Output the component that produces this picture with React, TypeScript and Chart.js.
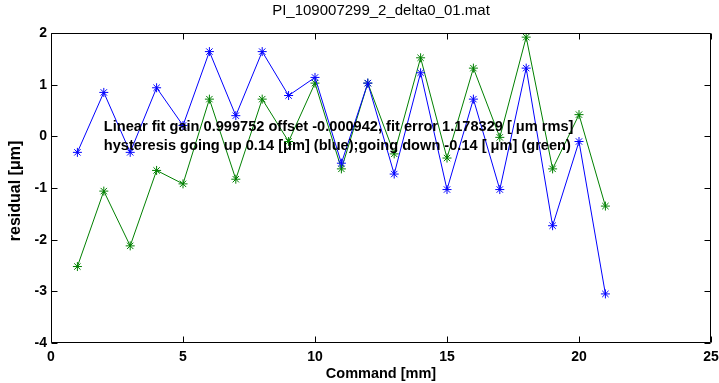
import React, { useEffect, useRef } from "react";
import { Chart, registerables } from "chart.js";

Chart.register(...registerables);

const titleText = "PI_109007299_2_delta0_01.mat";
const xLabel = "Command [mm]";
const yLabel = "residual [\u03bcm]";
const noteLines = [
  "Linear fit gain 0.999752 offset -0.000942, fit error 1.178329 [ \u03bcm rms]",
  "hysteresis going up 0.14 [\u03bcm] (blue);going down -0.14 [ \u03bcm] (green)",
];
const noteAt = { x: 2, y: 0 };

const commands = [1, 2, 3, 4, 5, 6, 7, 8, 9, 10, 11, 12, 13, 14, 15, 16, 17, 18, 19, 20, 21];
const upValues = [
  -0.31, 0.85, -0.31, 0.94, 0.21, 1.64, 0.4, 1.64, 0.79, 1.14, -0.52,
  1.03, -0.73, 1.23, -1.03, 0.72, -1.03, 1.32, -1.73, -0.1, -3.05,
];
const downValues = [
  -2.52, -1.06, -2.12, -0.66, -0.92, 0.72, -0.83, 0.72, -0.1, 1.03, -0.63,
  1.03, -0.34, 1.52, -0.42, 1.32, -0.02, 1.92, -0.63, 0.42, -1.35,
];
const xTicks = [0, 5, 10, 15, 20, 25];
const yTicks = [-4, -3, -2, -1, 0, 1, 2];

const FONT = "'Liberation Sans', Arial, Helvetica, sans-serif";

const decorPlugin = {
  id: "decor",
  afterDraw(chart: any) {
    const ctx = chart.ctx as CanvasRenderingContext2D;
    const a = chart.chartArea;
    const xs = chart.scales.x;
    const ys = chart.scales.y;
    ctx.save();
    ctx.strokeStyle = "#000";
    ctx.lineWidth = 1;
    const L = Math.round(a.left) + 0.5;
    const R = Math.round(a.right) - 0.5;
    const T = Math.round(a.top) + 0.5;
    const B = Math.round(a.bottom) - 0.5;
    ctx.beginPath();
    ctx.rect(L, T, R - L, B - T);
    const tl = 6;
    for (const v of xTicks) {
      const px = Math.round(xs.getPixelForValue(v)) + 0.5;
      ctx.moveTo(px, B);
      ctx.lineTo(px, B - tl);
      ctx.moveTo(px, T);
      ctx.lineTo(px, T + tl);
    }
    for (const v of yTicks) {
      const py = Math.round(ys.getPixelForValue(v)) + 0.5;
      ctx.moveTo(L, py);
      ctx.lineTo(L + tl, py);
      ctx.moveTo(R, py);
      ctx.lineTo(R - tl, py);
    }
    ctx.stroke();

    ctx.fillStyle = "#000";
    ctx.textAlign = "center";
    ctx.textBaseline = "middle";
    ctx.font = `15px ${FONT}`;
    ctx.fillText(titleText, (a.left + a.right) / 2, 11);

    ctx.font = `bold 14.5px ${FONT}`;
    ctx.fillText(xLabel, (a.left + a.right) / 2, 374);
    ctx.save();
    ctx.translate(16, 191);
    ctx.rotate(-Math.PI / 2);
    ctx.font = `bold 16px ${FONT}`;
    ctx.fillText(yLabel, 0, 0);
    ctx.restore();

    ctx.textAlign = "left";
    ctx.font = `bold 14.6px ${FONT}`;
    const nx = xs.getPixelForValue(noteAt.x);
    const ny = ys.getPixelForValue(noteAt.y);
    const lh = 19;
    ctx.fillText(noteLines[0], nx, ny - lh / 2);
    ctx.fillText(noteLines[1], nx, ny + lh / 2);
    ctx.restore();
  },
};

export default function App() {
  const ref = useRef<HTMLCanvasElement | null>(null);
  useEffect(() => {
    if (!ref.current) return;
    const mk = (vals: number[], color: string) => ({
      data: commands.map((c, i) => ({ x: c, y: vals[i] })),
      showLine: true,
      borderColor: color,
      backgroundColor: color,
      borderWidth: 1,
      pointStyle: "star",
      pointRadius: 4.5,
      pointBorderWidth: 1,
      pointBorderColor: color,
    });
    const chart = new Chart(ref.current, {
      type: "scatter",
      data: {
        datasets: [mk(upValues, "#0000ff"), mk(downValues, "#008000")],
      },
      options: {
        animation: false,
        responsive: false,
        devicePixelRatio: 1,
        layout: { padding: { top: 33, right: 8, left: 0, bottom: 0 } },
        plugins: { legend: { display: false }, tooltip: { enabled: false }, title: { display: false } },
        scales: {
          x: {
            type: "linear",
            min: 0,
            max: 25,
            grid: { display: false, drawTicks: false },
            border: { display: false },
            afterFit: (s: any) => {
              s.height = 40;
              s.paddingLeft = 0;
              s.paddingRight = 0;
            },
            afterBuildTicks: (s: any) => {
              s.ticks = xTicks.map((v) => ({ value: v }));
            },
            ticks: {
              color: "#000",
              padding: 6,
              maxRotation: 0,
              autoSkip: false,
              font: { family: FONT, size: 14, weight: "bold" },
            },
          },
          y: {
            type: "linear",
            min: -4,
            max: 2,
            grid: { display: false, drawTicks: false },
            border: { display: false },
            afterFit: (s: any) => {
              s.width = 51;
              s.paddingTop = 0;
              s.paddingBottom = 0;
            },
            afterBuildTicks: (s: any) => {
              s.ticks = yTicks.map((v) => ({ value: v }));
            },
            ticks: {
              color: "#000",
              padding: 4,
              autoSkip: false,
              font: { family: FONT, size: 14, weight: "bold" },
            },
          },
        },
      },
      plugins: [decorPlugin],
    } as any);
    return () => chart.destroy();
  }, []);
  return (
    <div style={{ position: "fixed", left: 0, top: 0, width: 719, height: 383, background: "#fff" }}>
      <canvas ref={ref} width={719} height={383} style={{ display: "block" }} />
    </div>
  );
}
